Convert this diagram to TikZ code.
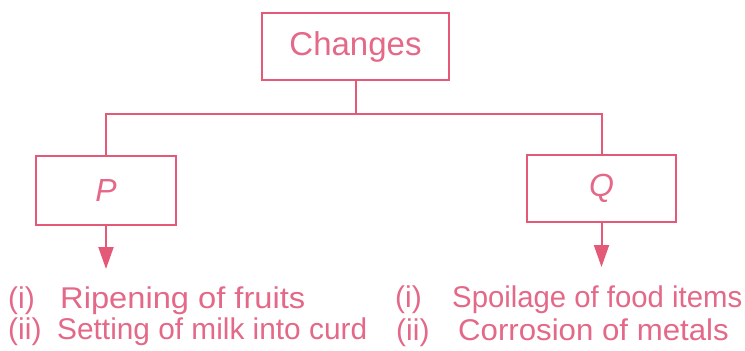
\documentclass[tikz,border=0pt]{standalone}
\usepackage{fontspec}
\setmainfont{Liberation Sans}
\usepackage{graphicx}
\usetikzlibrary{arrows.meta}
\definecolor{lc}{RGB}{228,88,120}
\definecolor{tc}{RGB}{228,104,136}
\newcommand{\hsc}[2]{\scalebox{#1}[1]{#2}}
\begin{document}
\begin{tikzpicture}[x=1bp,y=-1bp,
  box/.style={draw=lc,line width=2bp,rectangle,inner sep=0pt,text=tc},
  conn/.style={draw=lc,line width=2bp},
  arr/.style={conn,-{Triangle[width=15bp,length=22bp]}},
  item/.style={anchor=base west,inner sep=0pt,text=tc,font=\fontsize{30bp}{36bp}\selectfont}]
\useasboundingbox (0,0) rectangle (745,350);
\node[box,minimum width=187bp,minimum height=67bp,font=\fontsize{33bp}{40bp}\selectfont] (ch) at (355.5,46.5) {Changes};
\node[box,minimum width=140bp,minimum height=69bp,font=\fontsize{32bp}{38bp}\selectfont\itshape] (P) at (106,190.5) {P};
\node[box,minimum width=149bp,minimum height=67bp,font=\fontsize{32bp}{38bp}\selectfont\itshape] (Q) at (601.5,188.5) {Q};
\coordinate (j) at (355.5,114);
\coordinate (pa) at (106,269);
\coordinate (qa) at (601.5,267);
\draw[conn] (ch.south) -- (j);
\draw[conn] (P.north) |- (j) -| (Q.north);
\draw[arr] (P.south) -- (pa);
\draw[arr] (Q.south) -- (qa);
\node[item] (l1a) at (8,308) {(i)};
\node[item] (l1b) at (60,308) {\hsc{1.089}{Ripening of fruits}};
\node[item] (l2a) at (8,339) {(ii)};
\node[item] (l2b) at (57,339) {\hsc{0.994}{Setting of milk into curd}};
\node[item] (r1a) at (395,307) {(i)};
\node[item] (r1b) at (452,307) {\hsc{0.977}{Spoilage of food items}};
\node[item] (r2a) at (396,340) {(ii)};
\node[item] (r2b) at (458,340) {\hsc{1.04}{Corrosion of metals}};
\end{tikzpicture}
\end{document}
